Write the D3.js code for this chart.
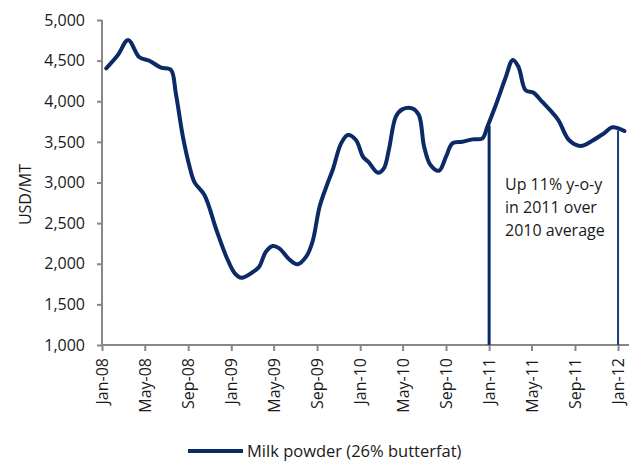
<!DOCTYPE html>
<html>
<head>
<meta charset="utf-8">
<script src="https://cdn.jsdelivr.net/npm/d3@7"></script>
<style>
  html, body { margin: 0; padding: 0; background: #fff; }
  svg text { font-family: "Open Sans", Lato, sans-serif; fill: #1a1a1a; }
</style>
</head>
<body>
<svg id="chart" width="643" height="461"></svg>
<script>
// ---- data ----
const dates = [
  "2008-01-13","2008-02-15","2008-03-15","2008-04-16","2008-05-14","2008-06-16","2008-07-14","2008-07-28",
  "2008-08-17","2008-09-05","2008-09-19","2008-10-17","2008-11-20","2008-12-18","2009-01-11","2009-01-30",
  "2009-03-02","2009-03-21","2009-04-09","2009-04-28","2009-05-17","2009-06-14","2009-07-08","2009-08-01",
  "2009-08-19","2009-09-08","2009-09-27","2009-10-15","2009-11-08","2009-11-27","2009-12-20","2010-01-09",
  "2010-01-25","2010-02-20","2010-03-09","2010-03-23","2010-04-12","2010-04-30","2010-05-28","2010-06-16",
  "2010-07-01","2010-07-19","2010-08-12","2010-09-01","2010-09-19","2010-10-17","2010-11-15","2010-12-13",
  "2010-12-27","2011-01-20","2011-02-16","2011-03-09","2011-03-25","2011-04-14","2011-05-07","2011-05-31",
  "2011-06-24","2011-07-16","2011-08-15","2011-09-17","2011-10-20","2011-11-22","2011-12-16","2012-01-19"
];
const milkPowder = [
  4405,4569,4754,4541,4499,4413,4385,4098,
  3564,3194,3002,2846,2415,2087,1882,1828,
  1895,1964,2148,2218,2190,2055,1993,2087,
  2271,2702,2948,3154,3482,3585,3523,3317,
  3250,3121,3175,3400,3810,3900,3913,3831,
  3441,3215,3145,3317,3482,3502,3531,3544,
  3687,3954,4283,4508,4425,4138,4105,3994,
  3884,3769,3523,3449,3514,3605,3679,3634
];
const seriesName = "Milk powder (26% butterfat)";
const yTicks = [1000,1500,2000,2500,3000,3500,4000,4500,5000];
const xTickDates = ["2008-01-01","2008-05-01","2008-09-01","2009-01-01","2009-05-01","2009-09-01",
  "2010-01-01","2010-05-01","2010-09-01","2011-01-01","2011-05-01","2011-09-01","2012-01-01"];
const markerDates = ["2011-01-01","2012-01-01"];
const markerValues = [3700, 3640];
const annotationLines = ["Up 11% y-o-y","in 2011 over","2010 average"];
const yLabel = "USD/MT";

// ---- chart ----
const parse = d3.timeParse("%Y-%m-%d");
const data = dates.map((d,i) => ({date: parse(d), value: milkPowder[i]}));

const svg = d3.select("#chart");
const mLeft = 102, mRight = 629, mTop = 20, mBottom = 345;
const navy = "#0b2a66";
const axisGrey = "#878787";
const fontFam = "'Open Sans', Lato, sans-serif";

const x = d3.scaleTime().domain([parse("2008-01-01"), parse("2012-02-01")]).range([mLeft, mRight]);
const y = d3.scaleLinear().domain([1000, 5000]).range([mBottom, mTop]);

// Y axis
const yAxis = svg.append("g").attr("transform", `translate(${mLeft},0)`)
  .call(d3.axisLeft(y).tickValues(yTicks).tickFormat(d3.format(",")).tickSize(5).tickPadding(12));
yAxis.selectAll("path, line").attr("stroke", axisGrey).attr("stroke-width", 2);
yAxis.select(".domain").attr("d", `M0,${mTop}V${mBottom}`);
yAxis.selectAll("text").attr("font-size", 16).attr("fill", "#1a1a1a")
  .attr("font-family", fontFam);

// X axis
const xAxis = svg.append("g").attr("transform", `translate(0,${mBottom})`)
  .call(d3.axisBottom(x).tickValues(xTickDates.map(parse)).tickFormat(d3.timeFormat("%b-%y")).tickSize(6).tickPadding(7));
xAxis.selectAll("path, line").attr("stroke", axisGrey).attr("stroke-width", 2);
xAxis.select(".domain").attr("d", `M${mLeft},0H${mRight}`);
xAxis.selectAll("text")
  .attr("font-size", 16).attr("fill", "#1a1a1a").attr("font-family", fontFam)
  .attr("text-anchor", "end")
  .attr("dy", "0.35em")
  .attr("transform", "translate(0,13) rotate(-90)")
  .attr("y", 0).attr("x", 0);

// Y label
svg.append("text")
  .attr("transform", `translate(25,${(mTop+mBottom)/2 + 12}) rotate(-90)`)
  .attr("text-anchor", "middle").attr("dy", "0.35em")
  .attr("font-size", 16).text(yLabel);

// marker verticals
svg.append("line")
  .attr("x1", x(parse(markerDates[0]))).attr("x2", x(parse(markerDates[0])))
  .attr("y1", y(markerValues[0])).attr("y2", mBottom)
  .attr("stroke", navy).attr("stroke-width", 3);
svg.append("line")
  .attr("x1", x(parse(markerDates[1]))).attr("x2", x(parse(markerDates[1])))
  .attr("y1", y(markerValues[1])).attr("y2", mBottom)
  .attr("stroke", "#1d3c7a").attr("stroke-width", 2);

// series line
const line = d3.line().x(d => x(d.date)).y(d => y(d.value)).curve(d3.curveCatmullRom.alpha(0.5));
svg.append("path").datum(data)
  .attr("d", line).attr("fill", "none").attr("stroke", navy)
  .attr("stroke-width", 4).attr("stroke-linejoin", "round").attr("stroke-linecap", "round");

// annotation
const ann = svg.append("text").attr("x", 505).attr("y", 190).attr("font-size", 16);
annotationLines.forEach((t,i) => {
  ann.append("tspan").attr("x", 505).attr("y", 190 + i*23).text(t);
});

// legend
const lg = svg.append("g").attr("transform", "translate(188,451)");
lg.append("line").attr("x1", 0).attr("x2", 55).attr("y1", 0).attr("y2", 0)
  .attr("stroke", navy).attr("stroke-width", 4);
lg.append("text").attr("x", 59).attr("y", 0).attr("dy", "0.35em")
  .attr("font-size", 16.5).text(seriesName);
</script>
</body>
</html>
